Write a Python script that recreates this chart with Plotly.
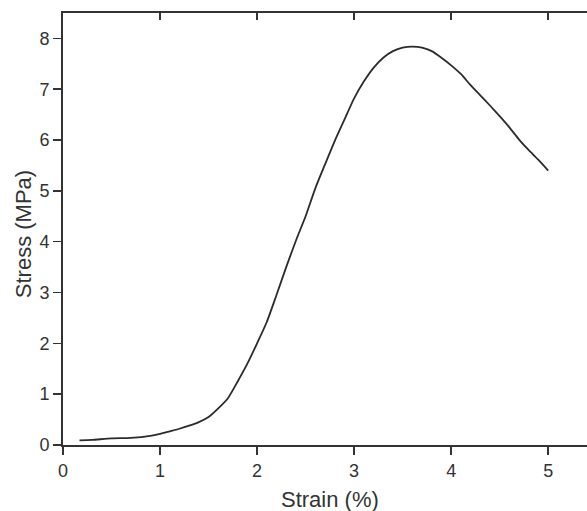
import plotly.graph_objects as go

strain = [0.17, 0.3, 0.5, 0.7, 0.9, 1.0, 1.1, 1.2, 1.3, 1.4, 1.5, 1.6, 1.7, 1.8, 1.9,
          2.0, 2.1, 2.2, 2.3, 2.4, 2.5, 2.6, 2.7, 2.8, 2.9, 3.0, 3.1, 3.2, 3.3, 3.4,
          3.5, 3.6, 3.7, 3.8, 3.9, 4.0, 4.1, 4.2, 4.3, 4.4, 4.5, 4.6, 4.7, 4.8, 4.9, 5.0]
stress = [0.09, 0.10, 0.13, 0.14, 0.18, 0.22, 0.27, 0.32, 0.38, 0.45, 0.55, 0.72, 0.92, 1.25, 1.60,
          2.00, 2.42, 2.95, 3.50, 4.02, 4.50, 5.05, 5.52, 5.98, 6.40, 6.82, 7.15, 7.42, 7.62, 7.75,
          7.82, 7.84, 7.82, 7.75, 7.62, 7.47, 7.30, 7.08, 6.88, 6.68, 6.47, 6.25, 6.01, 5.80, 5.61, 5.40]

x_ticks = [0, 1, 2, 3, 4, 5]
y_ticks = [0, 1, 2, 3, 4, 5, 6, 7, 8]
x_title = "Strain (%)"
y_title = "Stress (MPa)"

AX = "#333333"
FONT = "Liberation Sans, Arial, sans-serif"

fig = go.Figure()
fig.add_trace(go.Scatter(x=strain, y=stress, mode="lines",
                         line=dict(color="#2b2b2b", width=1.8, shape="spline", smoothing=0.6),
                         showlegend=False, hoverinfo="skip"))
fig.add_trace(go.Scatter(x=[strain[0]], y=[stress[0]], xaxis="x2", mode="markers",
                         marker=dict(opacity=0), showlegend=False, hoverinfo="skip"))

fig.update_layout(
    width=587, height=511,
    margin=dict(l=63, r=0, t=13, b=66),
    paper_bgcolor="white", plot_bgcolor="white",
    font=dict(family=FONT, size=18, color="#333333"),
    xaxis=dict(range=[0, 5.4], tickvals=x_ticks, ticks="outside", ticklen=8, tickwidth=1.5,
               tickcolor=AX, showline=True, linecolor=AX, linewidth=2, showgrid=False,
               zeroline=False, tickfont=dict(size=18, color="#333333")),
    xaxis2=dict(range=[0, 5.4], overlaying="x", side="top", tickvals=x_ticks, ticks="inside",
                ticklen=7, tickwidth=1.5, tickcolor=AX, showline=True, linecolor=AX, linewidth=2,
                showgrid=False, zeroline=False, showticklabels=False),
    yaxis=dict(range=[0, 8.5], tickvals=y_ticks, ticks="outside", ticklen=8, tickwidth=1.5,
               tickcolor=AX, showline=True, linecolor=AX, linewidth=2, showgrid=False,
               zeroline=False, tickfont=dict(size=18, color="#333333")),
    annotations=[
        dict(text=x_title, xref="paper", yref="paper", x=0.51, y=0, xanchor="center",
             yanchor="middle", yshift=-54, showarrow=False,
             font=dict(size=22, color="#333333", family=FONT)),
        dict(text=y_title, xref="paper", yref="paper", x=0, y=0.488, xanchor="center",
             yanchor="middle", xshift=-40, textangle=-90, showarrow=False,
             font=dict(size=22, color="#333333", family=FONT)),
    ],
)

fig.write_html("out.html", config={"displayModeBar": False, "staticPlot": True},
               post_script="document.body.style.margin='0px';document.body.style.overflow='hidden';")
